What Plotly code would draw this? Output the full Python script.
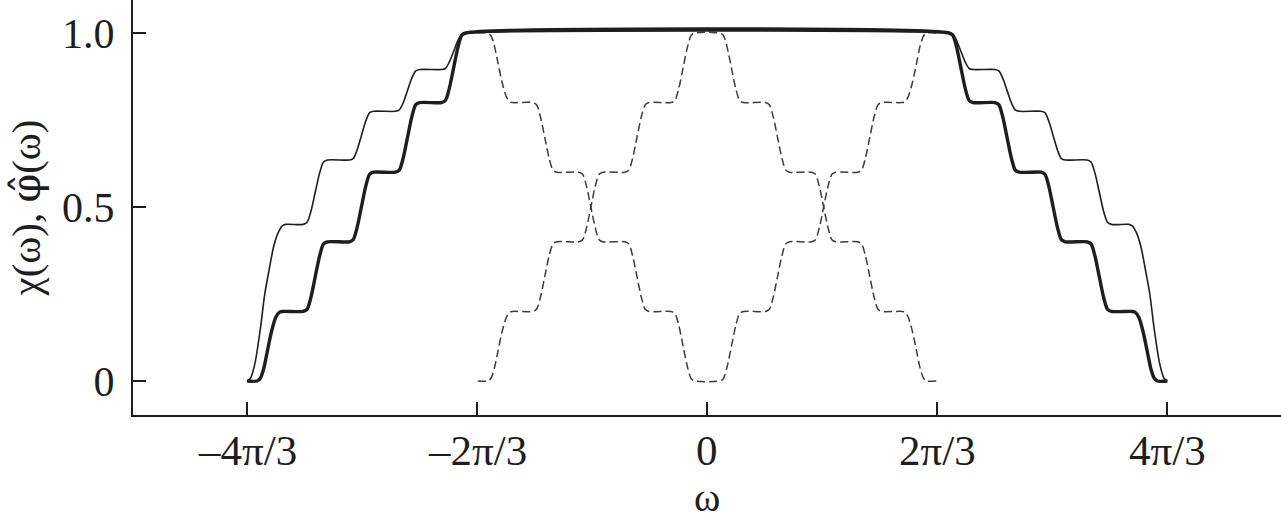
import math
import plotly.graph_objects as go

# ---- data (omega units) ----
thick_x = [-4.19, -4.10, -4.07, -4.04, -4.01, -3.97, -3.93, -3.895, -3.86,
           -3.68, -3.645, -3.61, -3.57, -3.53, -3.495, -3.46,
           -3.26, -3.225, -3.19, -3.15, -3.11, -3.075, -3.04,
           -2.84, -2.805, -2.77, -2.73, -2.69, -2.655, -2.62,
           -2.42, -2.385, -2.35, -2.31, -2.27, -2.235, -2.20,
           2.20, 2.235, 2.27, 2.31, 2.35, 2.385, 2.42,
           2.62, 2.655, 2.69, 2.73, 2.77, 2.805, 2.84,
           3.04, 3.075, 3.11, 3.15, 3.19, 3.225, 3.26,
           3.46, 3.495, 3.53, 3.57, 3.61, 3.645, 3.68,
           3.86, 3.895, 3.93, 3.97, 4.01, 4.04, 4.07, 4.10, 4.19]
thick_y = [0.0, 0.0, 0.008, 0.035, 0.08, 0.14, 0.183, 0.198, 0.2,
           0.2, 0.206, 0.24, 0.30, 0.36, 0.394, 0.4,
           0.4, 0.406, 0.44, 0.50, 0.56, 0.594, 0.6,
           0.6, 0.606, 0.64, 0.70, 0.76, 0.794, 0.8,
           0.8, 0.806, 0.84, 0.90, 0.96, 0.994, 1.0,
           1.0, 0.994, 0.96, 0.90, 0.84, 0.806, 0.8,
           0.8, 0.794, 0.76, 0.70, 0.64, 0.606, 0.6,
           0.6, 0.594, 0.56, 0.50, 0.44, 0.406, 0.4,
           0.4, 0.394, 0.36, 0.30, 0.24, 0.206, 0.2,
           0.2, 0.198, 0.183, 0.14, 0.08, 0.035, 0.008, 0.0, 0.0]

thin_x = [-4.19, -4.16, -4.12, -4.07, -4.03, -3.99, -3.95, -3.91, -3.87, -3.84,
          -3.68, -3.645, -3.61, -3.57, -3.53, -3.495, -3.46,
          -3.26, -3.225, -3.19, -3.15, -3.11, -3.075, -3.04,
          -2.84, -2.805, -2.77, -2.73, -2.69, -2.655, -2.62,
          -2.42, -2.385, -2.35, -2.31, -2.27, -2.235, -2.20,
          2.20, 2.235, 2.27, 2.31, 2.35, 2.385, 2.42,
          2.62, 2.655, 2.69, 2.73, 2.77, 2.805, 2.84,
          3.04, 3.075, 3.11, 3.15, 3.19, 3.225, 3.26,
          3.46, 3.495, 3.53, 3.57, 3.61, 3.645, 3.68,
          3.84, 3.87, 3.91, 3.95, 3.99, 4.03, 4.07, 4.12, 4.16, 4.19]
thin_y = [0.0, 0.008, 0.05, 0.15, 0.25, 0.32, 0.385, 0.425, 0.446, 0.45,
          0.45, 0.456, 0.487, 0.543, 0.598, 0.629, 0.635,
          0.635, 0.639, 0.663, 0.705, 0.747, 0.771, 0.775,
          0.775, 0.779, 0.799, 0.835, 0.871, 0.891, 0.895,
          0.895, 0.898, 0.916, 0.947, 0.979, 0.997, 1.0,
          1.0, 0.997, 0.979, 0.947, 0.916, 0.898, 0.895,
          0.895, 0.891, 0.871, 0.835, 0.799, 0.779, 0.775,
          0.775, 0.771, 0.747, 0.705, 0.663, 0.639, 0.635,
          0.635, 0.629, 0.598, 0.543, 0.487, 0.456, 0.45,
          0.45, 0.446, 0.425, 0.385, 0.32, 0.25, 0.15, 0.05, 0.008, 0.0]

dash_up_x = [-2.09, -2.00, -1.97, -1.94, -1.91, -1.87, -1.83, -1.80, -1.77,
             -1.59, -1.555, -1.52, -1.48, -1.44, -1.405, -1.37,
             -1.17, -1.135, -1.10, -1.06, -1.02, -0.985, -0.95,
             -0.75, -0.715, -0.68, -0.64, -0.60, -0.565, -0.53,
             -0.33, -0.295, -0.26, -0.22, -0.18, -0.145, -0.11,
             0.11, 0.145, 0.18, 0.22, 0.26, 0.295, 0.33,
             0.53, 0.565, 0.60, 0.64, 0.68, 0.715, 0.75,
             0.95, 0.985, 1.02, 1.06, 1.10, 1.135, 1.17,
             1.37, 1.405, 1.44, 1.48, 1.52, 1.555, 1.59,
             1.77, 1.80, 1.83, 1.87, 1.91, 1.94, 1.97, 2.00, 2.09]
dash_up_y = [0.0, 0.0, 0.008, 0.035, 0.08, 0.14, 0.183, 0.198, 0.2,
             0.2, 0.206, 0.24, 0.30, 0.36, 0.394, 0.4,
             0.4, 0.406, 0.44, 0.50, 0.56, 0.594, 0.6,
             0.6, 0.606, 0.64, 0.70, 0.76, 0.794, 0.8,
             0.8, 0.806, 0.84, 0.90, 0.96, 0.994, 1.0,
             1.0, 0.994, 0.96, 0.90, 0.84, 0.806, 0.8,
             0.8, 0.794, 0.76, 0.70, 0.64, 0.606, 0.6,
             0.6, 0.594, 0.56, 0.50, 0.44, 0.406, 0.4,
             0.4, 0.394, 0.36, 0.30, 0.24, 0.206, 0.2,
             0.2, 0.198, 0.183, 0.14, 0.08, 0.035, 0.008, 0.0, 0.0]

dash_down_x = [-2.09, -2.00, -1.97, -1.94, -1.91, -1.87, -1.83, -1.80, -1.77,
               -1.59, -1.555, -1.52, -1.48, -1.44, -1.405, -1.37,
               -1.17, -1.135, -1.10, -1.06, -1.02, -0.985, -0.95,
               -0.75, -0.715, -0.68, -0.64, -0.60, -0.565, -0.53,
               -0.33, -0.295, -0.26, -0.22, -0.18, -0.145, -0.11,
               0.11, 0.145, 0.18, 0.22, 0.26, 0.295, 0.33,
               0.53, 0.565, 0.60, 0.64, 0.68, 0.715, 0.75,
               0.95, 0.985, 1.02, 1.06, 1.10, 1.135, 1.17,
               1.37, 1.405, 1.44, 1.48, 1.52, 1.555, 1.59,
               1.77, 1.80, 1.83, 1.87, 1.91, 1.94, 1.97, 2.00, 2.09]
dash_down_y = [1.0, 1.0, 0.992, 0.965, 0.92, 0.86, 0.817, 0.802, 0.8,
               0.8, 0.794, 0.76, 0.70, 0.64, 0.606, 0.6,
               0.6, 0.594, 0.56, 0.50, 0.44, 0.406, 0.4,
               0.4, 0.394, 0.36, 0.30, 0.24, 0.206, 0.2,
               0.2, 0.194, 0.16, 0.10, 0.04, 0.006, 0.0,
               0.0, 0.006, 0.04, 0.10, 0.16, 0.194, 0.2,
               0.2, 0.206, 0.24, 0.30, 0.36, 0.394, 0.4,
               0.4, 0.406, 0.44, 0.50, 0.56, 0.594, 0.6,
               0.6, 0.606, 0.64, 0.70, 0.76, 0.794, 0.8,
               0.8, 0.802, 0.817, 0.86, 0.92, 0.965, 0.992, 1.0, 1.0]

x_tick_vals = [-4 * math.pi / 3, -2 * math.pi / 3, 0, 2 * math.pi / 3, 4 * math.pi / 3]
x_tick_text = ["\u20134\u03c0/3", "\u20132\u03c0/3", "0", "2\u03c0/3", "4\u03c0/3"]
y_tick_vals = [0, 0.5, 1.0]
y_tick_text = ["0", "0.5", "1.0"]
x_title = "\u03c9"
y_title = ("\u03c7(\u03c9), "
           "<span style='font-family:DejaVu Serif'>\u03c6\u0302</span>(\u03c9)")

FONT = "Liberation Serif, Times New Roman, serif"
INK = "#1e1e1e"

fig = go.Figure()
dash_style = dict(color="#3c3c3c", width=1.5, dash="8px,4px", shape="spline", smoothing=0.8)
fig.add_trace(go.Scatter(x=dash_up_x, y=dash_up_y, mode="lines", line=dash_style, showlegend=False))
fig.add_trace(go.Scatter(x=dash_down_x, y=dash_down_y, mode="lines", line=dash_style, showlegend=False))
fig.add_trace(go.Scatter(x=thin_x, y=thin_y, mode="lines",
                         line=dict(color=INK, width=1.6, shape="spline", smoothing=0.8), showlegend=False))
fig.add_trace(go.Scatter(x=thick_x, y=thick_y, mode="lines",
                         line=dict(color=INK, width=3.4, shape="spline", smoothing=0.8), showlegend=False))

# x tick labels placed just below the axis
for v, t in zip(x_tick_vals, x_tick_text):
    fig.add_annotation(x=v, xref="x", y=0, yref="paper", text=t, showarrow=False,
                       xanchor="center", yanchor="middle", yshift=-35,
                       font=dict(family=FONT, size=43, color=INK))
fig.add_annotation(x=0.5, xref="paper", y=0, yref="paper", text=x_title, showarrow=False,
                   xanchor="center", yanchor="bottom", yshift=-106, borderpad=0,
                   font=dict(family=FONT, size=40, color=INK))

fig.update_layout(
    width=1281, height=522,
    margin=dict(l=133, r=0, t=0, b=107),
    plot_bgcolor="white", paper_bgcolor="white",
    font=dict(family=FONT, size=40, color=INK),
    xaxis=dict(range=[-5.230, 5.225], showgrid=False, zeroline=False, automargin=False,
               showline=True, linecolor=INK, linewidth=2,
               ticks="inside", ticklen=13, tickwidth=2, tickcolor=INK,
               tickvals=x_tick_vals, showticklabels=False),
    yaxis=dict(range=[-0.0977, 1.0948], showgrid=False, zeroline=False, automargin=False,
               showline=True, linecolor=INK, linewidth=2,
               ticks="inside", ticklen=13, tickwidth=2, tickcolor=INK,
               tickvals=y_tick_vals, ticktext=y_tick_text,
               tickfont=dict(size=42), ticklabelstandoff=8,
               title=dict(text=y_title, standoff=9, font=dict(size=41))),
)

fig.write_html("out.html", config={"displayModeBar": False},
               post_script="document.body.style.margin='0';document.body.style.padding='0';")
